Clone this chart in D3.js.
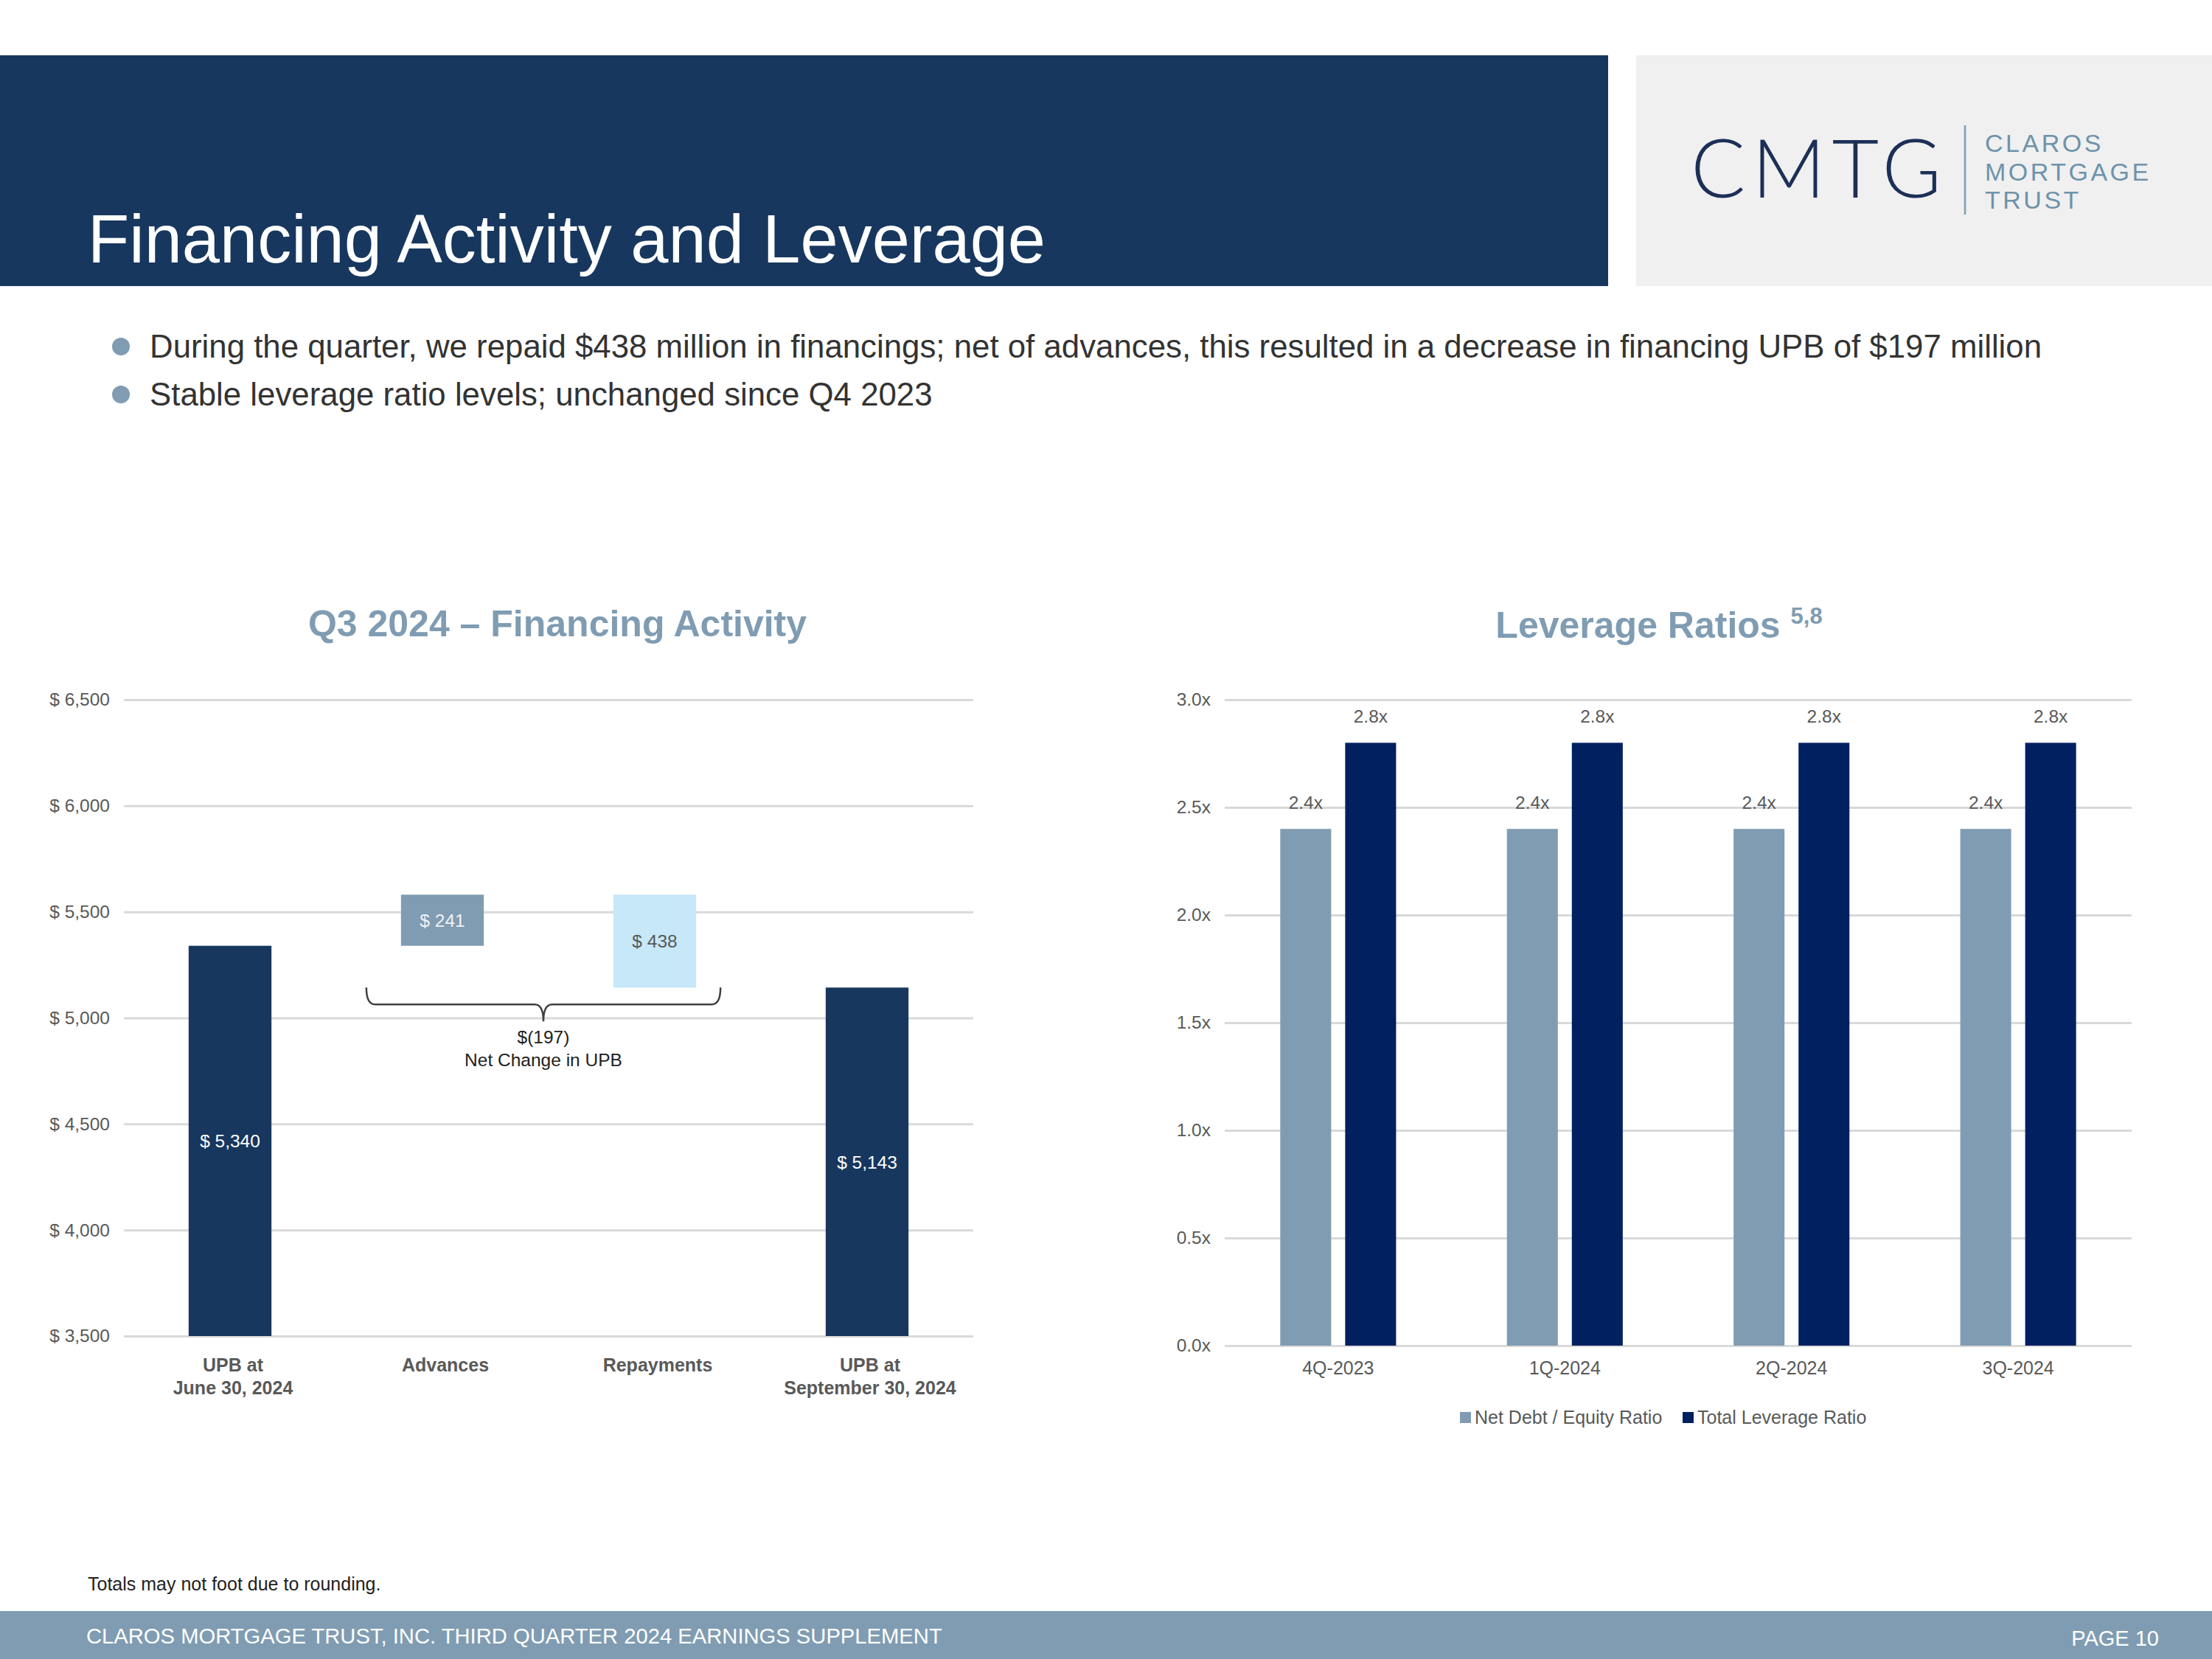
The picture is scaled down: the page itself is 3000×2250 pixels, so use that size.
<!DOCTYPE html>
<html>
<head>
<meta charset="UTF-8">
<style>
  html, body { margin: 0; padding: 0; background: #fff; }
  svg { display: block; font-family: "Liberation Sans", Arial, sans-serif; }
</style>
<script src="https://d3js.org/d3.v7.min.js"></script>
</head>
<body>
<div id="viz"></div>
<script>
// ---- data ----
const finCategories = ["UPB at|June 30, 2024", "Advances", "Repayments", "UPB at|September 30, 2024"];
const finValues = [5340, 241, -438, 5143];      // start total, change, change, end total
const finTypes = ["total", "up", "down", "total"];
const finDomain = [3500, 6500];

const levQuarters = ["4Q-2023", "1Q-2024", "2Q-2024", "3Q-2024"];
const netDebtEquity = [2.4, 2.4, 2.4, 2.4];
const totalLeverage = [2.8, 2.8, 2.8, 2.8];
const levSeries = ["Net Debt / Equity Ratio", "Total Leverage Ratio"];
const levDomain = [0, 3.0];

const bullets = [
  "During the quarter, we repaid $438 million in financings; net of advances, this resulted in a decrease in financing UPB of $197 million",
  "Stable leverage ratio levels; unchanged since Q4 2023"
];

const W = 3000, H = 2250;
const navy = "#17375e", steel = "#7f9cb2", gray = "#595959", grid = "#d9d9d9";

const svg = d3.select("#viz").append("svg")
  .attr("width", W).attr("height", H);

// ---- header ----
svg.append("rect").attr("x", 0).attr("y", 75).attr("width", 2181).attr("height", 313).attr("fill", navy);
svg.append("rect").attr("x", 2219).attr("y", 75).attr("width", 781).attr("height", 313).attr("fill", "#f0f0f0");
svg.append("text").attr("x", 119).attr("y", 356)
  .attr("font-size", 92).attr("fill", "#fff").text("Financing Activity and Leverage");

// logo
svg.append("text").attr("x", 2293).attr("y", 268)
  .attr("font-family", "Lato, 'Noto Sans', sans-serif").attr("font-weight", 300)
  .attr("font-size", 110).attr("fill", "#1c2f57").attr("textLength", 340).text("CMTG");
svg.append("line").attr("x1", 2665).attr("x2", 2665).attr("y1", 170).attr("y2", 291)
  .attr("stroke", steel).attr("stroke-width", 2.5);
["CLAROS", "MORTGAGE", "TRUST"].forEach((t, i) => {
  svg.append("text").attr("x", 2692).attr("y", 206 + i * 38.5)
    .attr("font-size", 34).attr("letter-spacing", 3.5).attr("fill", "#6e93aa").text(t);
});

// ---- bullets ----
bullets.forEach((t, i) => {
  const y = 485 + i * 65;
  svg.append("circle").attr("cx", 164).attr("cy", y - 15).attr("r", 12).attr("fill", steel);
  svg.append("text").attr("x", 203).attr("y", y).attr("font-size", 43.8).attr("fill", "#333").text(t);
});

// ---- left chart: financing waterfall ----
{
  const x = d3.scaleBand().domain(finCategories).range([168, 1320]).paddingInner(0.61).paddingOuter(0.305);
  const y = d3.scaleLinear().domain(finDomain).range([1812, 949]);

  svg.append("text").attr("x", 756).attr("y", 863).attr("text-anchor", "middle")
    .attr("font-size", 50).attr("font-weight", "bold").attr("fill", steel)
    .text("Q3 2024 \u2013 Financing Activity");

  const yAxis = svg.append("g").attr("transform", "translate(168,0)")
    .call(d3.axisLeft(y).tickValues(d3.range(3500, 6501, 500))
      .tickSize(-1152).tickPadding(19).tickFormat(d => "$ " + d3.format(",")(d)));
  yAxis.select(".domain").remove();
  yAxis.selectAll(".tick line").attr("stroke", grid).attr("stroke-width", 3);
  yAxis.selectAll(".tick text").attr("font-size", 24.5).attr("fill", gray).attr("font-family", "Liberation Sans, Arial, sans-serif");

  // waterfall segments
  let running = 0;
  const segs = finValues.map((v, i) => {
    let lo, hi;
    if (finTypes[i] === "total") { lo = finDomain[0]; hi = v; running = v; }
    else { const next = running + v; lo = Math.min(running, next); hi = Math.max(running, next); running = next; }
    return { cat: finCategories[i], v, lo, hi, type: finTypes[i] };
  });
  const fillOf = { total: navy, up: steel, down: "#c6e8f8" };
  const labelOf = { total: "#fff", up: "#f2f2f2", down: gray };

  svg.append("g").selectAll("rect").data(segs).join("rect")
    .attr("x", d => x(d.cat)).attr("width", x.bandwidth())
    .attr("y", d => y(d.hi)).attr("height", d => y(d.lo) - y(d.hi))
    .attr("fill", d => fillOf[d.type]);

  svg.append("g").selectAll("text").data(segs).join("text")
    .attr("x", d => x(d.cat) + x.bandwidth() / 2)
    .attr("y", d => (y(d.lo) + y(d.hi)) / 2 + 9)
    .attr("text-anchor", "middle").attr("font-size", 24.5)
    .attr("fill", d => labelOf[d.type])
    .text(d => "$ " + d3.format(",")(Math.abs(d.v)));

  // category labels
  const xl = svg.append("g").selectAll("text").data(finCategories).join("text")
    .attr("text-anchor", "middle").attr("font-size", 25).attr("font-weight", "bold").attr("fill", gray);
  xl.selectAll("tspan").data(d => d.split("|").map(s => ({ s, c: d }))).join("tspan")
    .attr("x", d => x(d.c) + x.bandwidth() / 2 + 4)
    .attr("y", (d, i) => 1860 + i * 31)
    .text(d => d.s);

  // brace for net change
  const net = finValues[1] + finValues[2];
  const L = x("Advances") - 47, R = x("Repayments") + x.bandwidth() + 33;
  const cx = (L + R) / 2, yTop = y(finValues[3]), yMid = yTop + 23, yTip = yMid + 23, r = 12;
  svg.append("path")
    .attr("d", `M${L},${yTop} Q${L},${yMid} ${L + r},${yMid} H${cx - r} Q${cx},${yMid} ${cx},${yTip} Q${cx},${yMid} ${cx + r},${yMid} H${R - r} Q${R},${yMid} ${R},${yTop}`)
    .attr("fill", "none").attr("stroke", "#404040").attr("stroke-width", 2.5);
  svg.append("text").attr("x", cx).attr("y", yTip + 30).attr("text-anchor", "middle")
    .attr("font-size", 24.5).attr("fill", "#222").text(`$(${Math.abs(net)})`);
  svg.append("text").attr("x", cx).attr("y", yTip + 61).attr("text-anchor", "middle")
    .attr("font-size", 24.5).attr("fill", "#222").text("Net Change in UPB");
}

// ---- right chart: leverage ratios ----
{
  const x0 = d3.scaleBand().domain(levQuarters).range([1661, 2891]).paddingInner(0.489).paddingOuter(0.245);
  const x1 = d3.scaleBand().domain(levSeries).range([0, x0.bandwidth()]).paddingInner(0.216);
  const y = d3.scaleLinear().domain(levDomain).range([1825, 949]);
  const color = d3.scaleOrdinal(levSeries, [steel, "#002060"]);

  const t = svg.append("text").attr("x", 2250).attr("y", 865).attr("text-anchor", "middle")
    .attr("font-size", 50).attr("font-weight", "bold").attr("fill", steel);
  t.append("tspan").text("Leverage Ratios ");
  t.append("tspan").attr("font-size", 31).attr("dy", -19).text("5,8");

  const yAxis = svg.append("g").attr("transform", "translate(1661,0)")
    .call(d3.axisLeft(y).tickValues(d3.range(0, 3.01, 0.5))
      .tickSize(-1230).tickPadding(19).tickFormat(d => d3.format(".1f")(d) + "x"));
  yAxis.select(".domain").remove();
  yAxis.selectAll(".tick line").attr("stroke", grid).attr("stroke-width", 3);
  yAxis.selectAll(".tick text").attr("font-size", 24.5).attr("fill", gray).attr("font-family", "Liberation Sans, Arial, sans-serif");

  const rows = levQuarters.map((q, i) => ({ q, vals: [netDebtEquity[i], totalLeverage[i]] }));
  const g = svg.append("g").selectAll("g").data(rows).join("g")
    .attr("transform", d => `translate(${x0(d.q)},0)`);
  const cells = d => d.vals.map((v, j) => ({ s: levSeries[j], v }));
  g.selectAll("rect").data(cells).join("rect")
    .attr("x", d => x1(d.s)).attr("width", x1.bandwidth())
    .attr("y", d => y(d.v)).attr("height", d => y(0) - y(d.v))
    .attr("fill", d => color(d.s));
  g.selectAll("text").data(cells).join("text")
    .attr("x", d => x1(d.s) + x1.bandwidth() / 2).attr("y", d => y(d.v) - 27)
    .attr("text-anchor", "middle").attr("font-size", 24.5).attr("fill", gray)
    .text(d => d3.format(".1f")(d.v) + "x");

  svg.append("g").selectAll("text").data(levQuarters).join("text")
    .attr("x", d => x0(d) + x0.bandwidth() / 2).attr("y", 1864)
    .attr("text-anchor", "middle").attr("font-size", 25).attr("fill", gray).text(d => d);

  // legend
  const lg = svg.append("g");
  const lx = [1980, 2282];
  levSeries.forEach((s, i) => {
    lg.append("rect").attr("x", lx[i]).attr("y", 1915).attr("width", 15).attr("height", 15).attr("fill", color(s));
    lg.append("text").attr("x", lx[i] + 20).attr("y", 1931).attr("font-size", 25).attr("fill", gray).text(s);
  });
}

// ---- footer ----
svg.append("text").attr("x", 119).attr("y", 2157).attr("font-size", 25).attr("fill", "#222")
  .text("Totals may not foot due to rounding.");
svg.append("rect").attr("x", 0).attr("y", 2185).attr("width", W).attr("height", 65).attr("fill", steel);
svg.append("text").attr("x", 117).attr("y", 2229).attr("font-size", 29.2).attr("fill", "#fff")
  .text("CLAROS MORTGAGE TRUST, INC. THIRD QUARTER 2024 EARNINGS SUPPLEMENT");
svg.append("text").attr("x", 2928).attr("y", 2232).attr("text-anchor", "end").attr("font-size", 29).attr("fill", "#fff")
  .text("PAGE 10");
</script>
</body>
</html>
